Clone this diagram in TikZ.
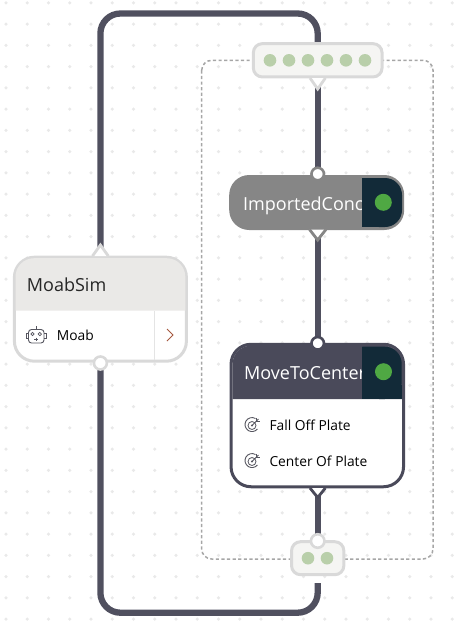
\documentclass[tikz,border=0pt]{standalone}
\usepackage{fontspec}
\setmainfont{Open Sans}
\pgfdeclarelayer{bg}
\pgfsetlayers{bg,main}
\definecolor{wirec}{HTML}{50505F}
\definecolor{lightb}{HTML}{D9D9D9}
\definecolor{gridc}{HTML}{E9E9E9}
\definecolor{framec}{HTML}{A6A6A6}
\definecolor{portfill}{HTML}{F5F5F3}
\definecolor{portdot}{HTML}{B9CFAA}
\definecolor{headg}{HTML}{EAE9E7}
\definecolor{grayn}{HTML}{868686}
\definecolor{darkh}{HTML}{4A4A5A}
\definecolor{navy}{HTML}{122A38}
\definecolor{okgreen}{HTML}{4FA843}
\definecolor{chev}{HTML}{A5583F}
\definecolor{iconc}{HTML}{55555F}
\tikzset{
  wire/.style={draw=wirec,line width=6.3pt},
  griddot/.style={fill=gridc},
  frameline/.style={draw=framec,line width=1.5pt,dash pattern=on 3.2pt off 2.4pt,rounded corners=10pt},
  portbox/.style={draw=lightb,fill=portfill,line width=3pt,rounded corners=9pt,inner sep=0pt,outer sep=0pt},
  pdot/.style={circle,fill=portdot,inner sep=0pt,minimum size=12.6pt},
  port/.style={circle,fill=white,line width=2.6pt,inner sep=0pt,outer sep=0pt,minimum size=12.5pt},
  concept/.style={rounded corners=20pt,inner sep=0pt,outer sep=0pt},
  status/.style={circle,fill=okgreen,inner sep=0pt,minimum size=17pt},
  title/.style={anchor=base west,inner sep=0pt,font=\fontsize{18}{20}\selectfont},
  item/.style={anchor=base west,inner sep=0pt,text=black,font=\fontsize{13.8}{16}\selectfont},
  tri/.style={fill=white,line width=2.8pt,line join=miter},
  icon/.style={draw=iconc,line width=0.9pt},
}
\begin{document}
\begin{tikzpicture}[x=1pt,y=-1pt]
\useasboundingbox (0,0) rectangle (464,630);
% nodes
\node[portbox,minimum width=128.7pt,minimum height=33.3pt] (topNode) at (317.7,60.3) {};
\foreach \i/\px in {1/270,2/289,3/308,4/327,5/346,6/365}
  \node[pdot] (topDot\i) at (\px,60.3) {};
\draw[tri,draw=lightb] (310,78) -- (317.7,89) -- (325.4,78);
\node[portbox,minimum width=52.3pt,minimum height=33pt] (botNode) at (317.7,558.2) {};
\node[pdot] (botDot1) at (308,558.2) {};
\node[pdot] (botDot2) at (327,558.2) {};

% MoabSim
\node[concept,draw=lightb,fill=white,line width=3pt,minimum width=172pt,minimum height=104pt] (simNode) at (100.4,309.2) {};
\fill[headg,rounded corners=18.5pt] (15.5,310.7) -- (15.5,258.2) -- (185.3,258.2) -- (185.3,310.7);
\node[title,text=black!85] (simTitle) at (26.7,291) {MoabSim};
\draw[draw=lightb!70,line width=0.8pt] (154.3,311) -- (154.3,360);
\draw[chev,line width=1pt] (167,329) -- (173,335) -- (167,341);
\node[item] (simItem) at (56.7,340.7) {Moab};
% robot icon
\draw[icon,rounded corners=3pt] (28.5,329.5) rectangle (44,343);
\draw[icon] (36,329.5) -- (36,326);
\draw[icon] (28.5,333.5) -- (26.5,333.5) -- (26.5,338.5) -- (28.5,338.5);
\draw[icon] (44,333.5) -- (46,333.5) -- (46,338.5) -- (44,338.5);
\draw[icon,line width=0.7pt] (32.5,334) circle (1.7) (39.8,334) circle (1.7);
\draw[icon,line width=0.7pt] (36,337.5) -- (36,341) (34.3,339.2) -- (37.7,339.2);
\node[port,draw=lightb,minimum size=13pt] (simOut) at (100.4,363) {};
\draw[tri,draw=lightb] (92.5,256) -- (100.4,245) -- (108.3,256);

% ImportedConcept
\node[concept,fill=grayn,minimum width=175pt,minimum height=55pt] (impNode) at (316.7,202.5) {};
\node[title,text=white] (impTitle) at (243,210) {ImportedConc};
\fill[navy,rounded corners=17pt] (362,178) -- (402,178) -- (402,227) -- (362,227) [sharp corners] -- cycle;
\fill[navy] (362,178) rectangle (380,227);
\node[status] (impStatus) at (383.3,202.3) {};
\node[port,draw=grayn] (impIn) at (317.7,174) {};
\draw[tri,draw=grayn] (309.5,229.5) -- (317.7,240) -- (325.9,229.5);

% MoveToCenter
\node[concept,draw=darkh,fill=white,line width=3pt,minimum width=172.5pt,minimum height=142.5pt] (moveNode) at (317.3,415.5) {};
\fill[darkh,rounded corners=18.5pt] (232.5,399) -- (232.5,345.7) -- (402.5,345.7) -- (402.5,399);
\node[title,text=white] (moveTitle) at (244,379) {MoveToCenter};
\fill[navy,rounded corners=17pt] (362.3,346.7) -- (401.7,346.7) -- (401.7,399) -- (362.3,399) [sharp corners] -- cycle;
\fill[navy] (362.3,346.7) rectangle (380,399);
\fill[navy] (380,385) rectangle (401.7,399);
\node[status] (moveStatus) at (383.5,371.7) {};
\node[item] (fallItem) at (269.3,430.7) {Fall Off Plate};
\node[item] (centerItem) at (269.3,466.7) {Center Of Plate};
\foreach \cy in {425,461} {
  \draw[icon] (255.5,\cy-6.5) arc (-60:-320:7);
  \draw[icon,line width=0.8pt] (252,\cy+0.5) circle (4);
  \fill[iconc] (252,\cy+0.5) circle (1.2);
  \draw[icon] (252,\cy+0.5) -- (258.5,\cy-6);
  \draw[icon,line width=0.8pt] (256,\cy-7) -- (256,\cy-4) -- (259.5,\cy-4);
}
\node[port,draw=darkh] (moveIn) at (317.7,343.3) {};
\draw[tri,draw=darkh] (310,488) -- (317.7,497.5) -- (325.4,488);
\node[port,draw=lightb,minimum size=13.5pt] (botIn) at (317.7,541) {};

\coordinate (wireTop) at (200,13.5);
\coordinate (wireBot) at (200,612.7);
\coordinate (botEnd) at (317.7,583);

\begin{pgfonlayer}{bg}
\foreach \i in {0,...,21}
  \foreach \j in {0,...,29}
    \fill[griddot] ({6+21.25*\i},{2.8+21.25*\j}) circle (1.8);
\draw[frameline] (201.7,60.3) rectangle (433,559);
\draw[wire,rounded corners=20pt] (simNode.north) -- (simNode.north |- wireTop) -- (topNode.north |- wireTop) -- (topNode.north);
\draw[wire] (topNode.south) -- (impIn);
\draw[wire] (impIn |- impNode.south) -- (moveIn);
\draw[wire] (moveIn |- moveNode.south) -- (botIn);
\draw[wire,rounded corners=20pt] (simOut) -- (simOut |- wireBot) -- (botEnd |- wireBot) -- (botEnd);
\end{pgfonlayer}
\end{tikzpicture}
\end{document}
